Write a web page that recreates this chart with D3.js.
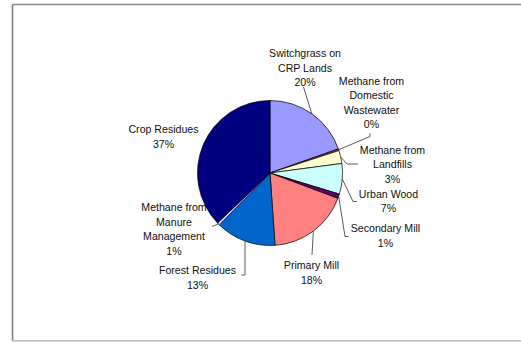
<!DOCTYPE html>
<html>
<head>
<meta charset="utf-8">
<script src="https://cdn.jsdelivr.net/npm/d3@7"></script>
<style>
  html, body { margin: 0; padding: 0; background: #ffffff; }
  svg { display: block; }
  text { font-family: "Liberation Sans", Arial, sans-serif; font-size: 10.6px; fill: #111; }
</style>
</head>
<body>
<svg id="chart" width="521" height="342"></svg>
<script>
// Biomass resource shares (percent of total), clockwise from 12 o'clock
const categories = [
  "Switchgrass on CRP Lands",
  "Methane from Domestic Wastewater",
  "Methane from Landfills",
  "Urban Wood",
  "Secondary Mill",
  "Primary Mill",
  "Forest Residues",
  "Methane from Manure Management",
  "Crop Residues"
];
const shares = [19.6, 0.4, 2.9, 6.8, 1.0, 18.2, 13.4, 0.6, 37.1];
const labelLines = [
  ["Switchgrass on", "CRP Lands"],
  ["Methane from", "Domestic", "Wastewater"],
  ["Methane from", "Landfills"],
  ["Urban Wood"],
  ["Secondary Mill"],
  ["Primary Mill"],
  ["Forest Residues"],
  ["Methane from", "Manure", "Management"],
  ["Crop Residues"]
];
const colors = ["#9999FF", "#993366", "#FFFFCC", "#CCFFFF", "#660066",
                "#FF8080", "#0066CC", "#CCCCFF", "#000080"];

// Label placement: text block centre (x, y of first line) and leader elbow points
const labelLayout = [
  { x: 305,   y: 53.5,  leader: [[303.5, 87]] },
  { x: 371.5, y: 81,    leader: [[370, 136.5], [370, 133.5]] },
  { x: 392.5, y: 150,   leader: [[347, 164], [358, 164]] },
  { x: 388.5, y: 194,   leader: [[353, 201.5], [357, 201.5]] },
  { x: 385.5, y: 228.5, leader: [[345, 236.5], [348.5, 236.5]] },
  { x: 311.5, y: 265.5, leader: [[312, 255]] },
  { x: 197.5, y: 270.5, leader: [[245, 275], [241.5, 275]] },
  { x: 174,   y: 207.5, leader: [[212, 226.5]] },
  { x: 163.5, y: 129.5, leader: [] }
];

const W = 521, H = 342;
const cx = 270, cy = 173, R = 72.5;
const lineH = 14.5;

const svg = d3.select("#chart");

// chart area frame
svg.append("line").attr("x1", 12.5).attr("y1", 4.5).attr("x2", W + 2).attr("y2", 4.5)
  .attr("stroke", "#8a8a8a").attr("stroke-width", 1.5);
svg.append("line").attr("x1", 12.5).attr("y1", 4.5).attr("x2", 12.5).attr("y2", 341)
  .attr("stroke", "#808080").attr("stroke-width", 1.6);
svg.append("line").attr("x1", 12.5).attr("y1", 340.8).attr("x2", W + 2).attr("y2", 340.8)
  .attr("stroke", "#bdbdbd").attr("stroke-width", 1.5);

const data = categories.map((c, i) => ({ name: c, value: shares[i], i }));

const pie = d3.pie().value(d => d.value).sort(null)
  .startAngle(0).endAngle(2 * Math.PI);
const arcs = pie(data);

const arc = d3.arc().innerRadius(0).outerRadius(R);
const edge = d3.arc().innerRadius(R).outerRadius(R);

const g = svg.append("g").attr("transform", `translate(${cx},${cy})`);

g.selectAll("path.slice")
  .data(arcs)
  .join("path")
  .attr("class", "slice")
  .attr("d", arc)
  .attr("fill", d => colors[d.data.i])
  .attr("stroke", "#000")
  .attr("stroke-width", 0.7)
  .attr("stroke-linejoin", "round");

// leader lines from slice edge midpoints to labels
const line = d3.line();
svg.selectAll("path.leader")
  .data(arcs.filter(d => labelLayout[d.data.i].leader.length))
  .join("path")
  .attr("class", "leader")
  .attr("d", d => {
    const [ex, ey] = edge.centroid(d);
    return line([[cx + ex, cy + ey], ...labelLayout[d.data.i].leader]);
  })
  .attr("fill", "none")
  .attr("stroke", "#333")
  .attr("stroke-width", 0.8);

// category labels with rounded percentages
const labels = svg.selectAll("text.lbl")
  .data(arcs)
  .join("text")
  .attr("class", "lbl")
  .attr("text-anchor", "middle");

labels.each(function (d) {
  const L = labelLayout[d.data.i];
  const lines = labelLines[d.data.i].concat([Math.round(d.data.value) + "%"]);
  const t = d3.select(this);
  lines.forEach((s, k) => {
    t.append("tspan")
      .attr("x", L.x)
      .attr("y", L.y + k * lineH + 3.8)
      .text(s);
  });
});
</script>
</body>
</html>
